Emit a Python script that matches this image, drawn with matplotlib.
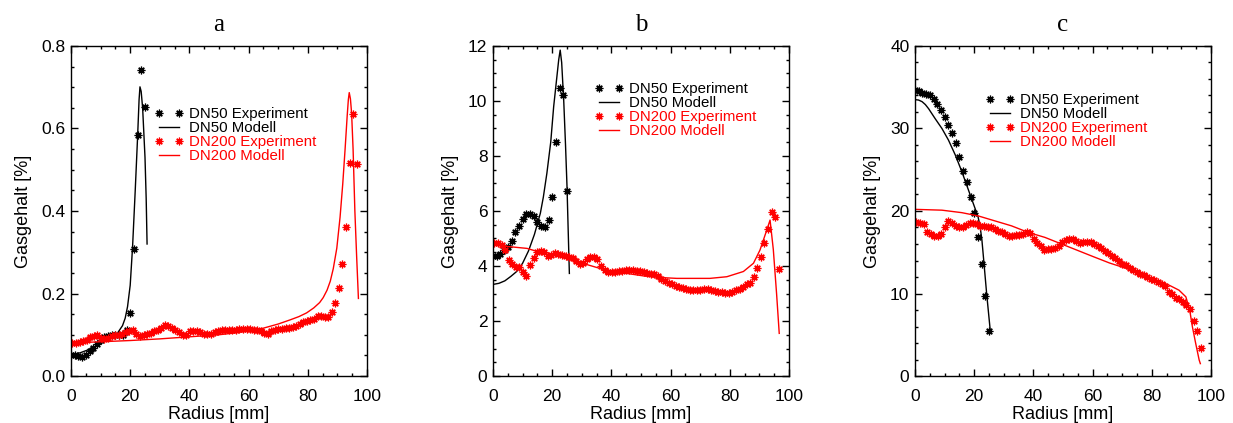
import numpy as np
import matplotlib
matplotlib.use('Agg')
import matplotlib.pyplot as plt
from matplotlib.lines import Line2D
from matplotlib.legend_handler import HandlerLine2D
from matplotlib.ticker import MultipleLocator, FormatStrFormatter

plt.rcParams['font.family'] = ['Liberation Sans', 'DejaVu Sans']

# radial positions of measurements [mm]
r50 = np.arange(21) * 1.25
r200 = np.round(0.5 + np.arange(81) * 1.2, 2)

panel_titles = ['a', 'b', 'c']
legend_labels = ['DN50 Experiment', 'DN50 Modell', 'DN200 Experiment', 'DN200 Modell']

# ---------------- panel a ----------------
a_exp50 = [0.052, 0.050, 0.048, 0.047, 0.052, 0.060, 0.068, 0.078, 0.087, 0.094, 0.098,
           0.100, 0.100, 0.100, 0.100, 0.112, 0.153, 0.308, 0.584, 0.743, 0.651]
a_mod50_x = [0, 3, 6, 9, 12, 14, 15.8, 17.4, 18.3, 19.1, 20.0, 20.8, 21.7, 22.5, 23.0, 23.3,
             23.7, 24.2, 24.6, 25.0, 25.4, 25.7]
a_mod50_y = [0.051, 0.056, 0.064, 0.074, 0.086, 0.095, 0.105, 0.122, 0.14, 0.168, 0.22, 0.313,
             0.45, 0.58, 0.67, 0.701, 0.69, 0.65, 0.59, 0.53, 0.43, 0.32]
a_exp200 = [0.079, 0.080, 0.083, 0.085, 0.088, 0.094, 0.098, 0.099, 0.092, 0.090,
            0.093, 0.097, 0.099, 0.100, 0.103, 0.106, 0.109, 0.111, 0.103, 0.097,
            0.100, 0.103, 0.105, 0.109, 0.112, 0.116, 0.123, 0.122, 0.117, 0.112,
            0.106, 0.100, 0.100, 0.108, 0.110, 0.109, 0.106, 0.103, 0.101, 0.103,
            0.107, 0.110, 0.111, 0.111, 0.112, 0.112, 0.112, 0.113, 0.114, 0.115,
            0.115, 0.112, 0.111, 0.108, 0.105, 0.103, 0.108, 0.112, 0.115, 0.115,
            0.116, 0.117, 0.120, 0.122, 0.126, 0.130, 0.133, 0.135, 0.138, 0.145,
            0.146, 0.142, 0.143, 0.156, 0.178, 0.214, 0.271, 0.360, 0.516, 0.635,
            0.513]
a_mod200_x = [0, 10, 20, 30, 40, 50, 55, 60, 65, 70, 74, 77, 79.6, 82, 84, 85.2, 86.5, 87.6,
              88.6, 89.8, 90.9, 91.8, 92.6, 93.3, 93.7, 94.0, 94.4, 94.8, 95.3, 95.9, 96.5,
              97.1]
a_mod200_y = [0.080, 0.083, 0.086, 0.090, 0.095, 0.100, 0.104, 0.109, 0.116, 0.126, 0.136,
              0.144, 0.153, 0.165, 0.178, 0.190, 0.208, 0.230, 0.260, 0.31, 0.385, 0.465,
              0.55, 0.63, 0.67, 0.687, 0.672, 0.637, 0.55, 0.40, 0.29, 0.188]

# ---------------- panel b ----------------
b_exp50 = [4.35, 4.38, 4.45, 4.58, 4.68, 4.92, 5.22, 5.47, 5.72, 5.88, 5.88, 5.82, 5.60,
           5.45, 5.40, 5.67, 6.52, 8.52, 10.46, 10.22, 6.74]
b_mod50_x = [0, 2, 4, 6, 8, 10, 12, 14, 16, 17, 18.2, 19.5, 20.5, 21.5, 22.2, 22.7, 23.2,
             23.9, 24.5, 25.0, 25.4, 25.8]
b_mod50_y = [3.33, 3.37, 3.46, 3.62, 3.80, 4.10, 4.55, 5.15, 5.92, 6.50, 7.37, 8.50, 9.80,
             10.8, 11.5, 11.85, 11.4, 10.0, 8.4, 6.9, 5.3, 3.73]
b_exp200 = [4.82, 4.82, 4.75, 4.60, 4.22, 4.06, 3.98, 3.98, 3.78, 3.64,
            4.02, 4.30, 4.50, 4.55, 4.50, 4.36, 4.40, 4.46, 4.44, 4.40,
            4.36, 4.34, 4.30, 4.20, 4.06, 4.12, 4.25, 4.34, 4.32, 4.24,
            4.00, 3.85, 3.78, 3.78, 3.80, 3.82, 3.83, 3.86, 3.86, 3.85,
            3.83, 3.82, 3.80, 3.76, 3.72, 3.70, 3.65, 3.53, 3.45, 3.40,
            3.33, 3.27, 3.23, 3.19, 3.16, 3.13, 3.12, 3.12, 3.14, 3.15,
            3.15, 3.14, 3.10, 3.06, 3.04, 3.03, 3.03, 3.06, 3.12, 3.18,
            3.25, 3.33, 3.39, 3.61, 3.92, 4.34, 4.82, 5.33, 5.98, 5.79,
            3.88]
b_mod200_x = [0, 5.8, 11.5, 17.1, 22.7, 28.3, 34, 39.6, 45.2, 50.8, 56.5, 62.1, 67.7, 73.3,
              79, 84.6, 88, 90.2, 92.5, 93.6, 94.7, 95.8, 96.7]
b_mod200_y = [4.76, 4.70, 4.64, 4.46, 4.34, 4.16, 3.98, 3.80, 3.73, 3.64, 3.58, 3.55, 3.55,
              3.55, 3.61, 3.80, 4.10, 4.58, 5.31, 5.67, 4.60, 3.00, 1.55]

# ---------------- panel c ----------------
c_exp50 = [34.7, 34.5, 34.3, 34.15, 34.0, 33.6, 33.0, 32.2, 31.4, 30.4, 29.4, 28.2, 26.5,
           24.9, 23.5, 21.7, 19.8, 16.9, 13.6, 9.7, 5.5]
c_mod50_x = [0, 1.2, 2.4, 3.5, 4.6, 6.8, 9.1, 11.3, 13.6, 15.8, 18.1, 20.3, 21.3, 22.0, 22.6,
             23.1, 24.2, 25.4]
c_mod50_y = [33.5, 33.45, 33.25, 32.9, 32.4, 31.2, 30.0, 28.6, 26.8, 24.8, 22.5, 20.3, 19.3,
             18.1, 16.5, 14.5, 10.0, 5.6]
c_exp200 = [18.7, 18.6, 18.4, 17.5, 17.2, 17.0, 17.0, 17.2, 18.1, 18.8,
            18.6, 18.2, 18.1, 18.1, 18.3, 18.5, 18.6, 18.4, 18.2, 18.2,
            18.1, 18.0, 17.8, 17.6, 17.4, 17.2, 17.0, 17.0, 17.1, 17.1,
            17.2, 17.4, 17.3, 16.6, 16.1, 15.8, 15.3, 15.4, 15.4, 15.5,
            15.8, 16.2, 16.5, 16.6, 16.6, 16.4, 16.1, 16.2, 16.3, 16.2,
            16.0, 15.8, 15.5, 15.2, 14.9, 14.6, 14.3, 13.9, 13.6, 13.4,
            13.1, 12.9, 12.6, 12.4, 12.2, 12.0, 11.8, 11.6, 11.4, 11.2,
            10.9, 10.2, 9.9, 9.5, 9.3, 9.0, 8.6, 8.1, 6.7, 5.4,
            3.4]
c_mod200_x = [0, 9.1, 15.8, 21.4, 27.0, 32.6, 38.3, 43.9, 48.8, 54.4, 60.0, 65.7, 71.3, 76.9,
              82.5, 85.9, 89.2, 91.5, 92.8, 93.7, 94.8, 96.0, 96.4]
c_mod200_y = [20.2, 20.1, 19.8, 19.4, 18.8, 18.2, 17.4, 16.8, 16.1, 15.3, 14.5, 13.7, 13.05,
              12.2, 11.5, 11.0, 10.4, 9.6, 8.0, 6.0, 4.0, 1.94, 1.5]

panels = [
    dict(e50=a_exp50, m50=(a_mod50_x, a_mod50_y), e200=a_exp200, m200=(a_mod200_x, a_mod200_y),
         ylim=(0, 0.8), major=0.2, minor=0.05, fmt='%.1f', leg=(0.297, 0.815)),
    dict(e50=b_exp50, m50=(b_mod50_x, b_mod50_y), e200=b_exp200, m200=(b_mod200_x, b_mod200_y),
         ylim=(0, 12), major=2, minor=0.5, fmt='%d', leg=(0.358, 0.890)),
    dict(e50=c_exp50, m50=(c_mod50_x, c_mod50_y), e200=c_exp200, m200=(c_mod200_x, c_mod200_y),
         ylim=(0, 40), major=10, minor=2, fmt='%d', leg=(0.253, 0.858)),
]

W, H = 1233, 423
fig = plt.figure(figsize=(W / 100, H / 100), dpi=100)
lefts = [71, 493, 915]
ax_w, ax_top, ax_bot = 296, 46, 376

ast = (8, 2, 0)
ms = 5.5
mew = 0.9
RED = '#ff0000'

for i, p in enumerate(panels):
    ax = fig.add_axes([lefts[i] / W, (H - ax_bot) / H, ax_w / W, (ax_bot - ax_top) / H])
    ax.plot(r50, p['e50'], ls='none', marker=ast, ms=ms, mew=mew, color='black')
    ax.plot(*p['m50'], color='black', lw=1.0)
    ax.plot(r200, p['e200'], ls='none', marker=ast, ms=ms, mew=mew, color=RED)
    ax.plot(*p['m200'], color=RED, lw=1.0)
    ax.set_xlim(0, 100)
    ax.set_ylim(*p['ylim'])
    ax.xaxis.set_major_locator(MultipleLocator(20))
    ax.xaxis.set_minor_locator(MultipleLocator(5))
    ax.yaxis.set_major_locator(MultipleLocator(p['major']))
    ax.yaxis.set_minor_locator(MultipleLocator(p['minor']))
    ax.yaxis.set_major_formatter(FormatStrFormatter(p['fmt']))
    ax.tick_params(which='both', direction='in', top=True, right=True, width=1.0,
                   labelsize=12.5)
    ax.tick_params(axis='x', which='major', pad=9.5)
    ax.tick_params(axis='y', which='major', pad=4)
    ax.tick_params(which='major', length=5)
    ax.tick_params(which='minor', length=2.5)
    for s in ax.spines.values():
        s.set_linewidth(1.0)
    ax.set_xlabel('Radius [mm]', fontsize=13, labelpad=1)
    ax.set_ylabel('Gasgehalt [%]', fontsize=13, labelpad=6.5)
    ax.set_title(panel_titles[i], fontsize=18, family=['Liberation Serif'], pad=11)

    handles = [
        Line2D([], [], ls='none', marker=ast, ms=ms, mew=mew, color='black'),
        Line2D([], [], color='black', lw=1.0),
        Line2D([], [], ls='none', marker=ast, ms=ms, mew=mew, color=RED),
        Line2D([], [], color=RED, lw=1.0),
    ]
    ax.legend(handles, legend_labels, loc='upper left', bbox_to_anchor=p['leg'],
              frameon=False, fontsize=10.8, numpoints=2, handlelength=1.35,
              handletextpad=0.65, labelspacing=0.0, borderpad=0, borderaxespad=0,
              labelcolor=['black', 'black', RED, RED],
              handler_map={Line2D: HandlerLine2D(marker_pad=0, numpoints=2)})

fig.savefig('out.png', dpi=100)
